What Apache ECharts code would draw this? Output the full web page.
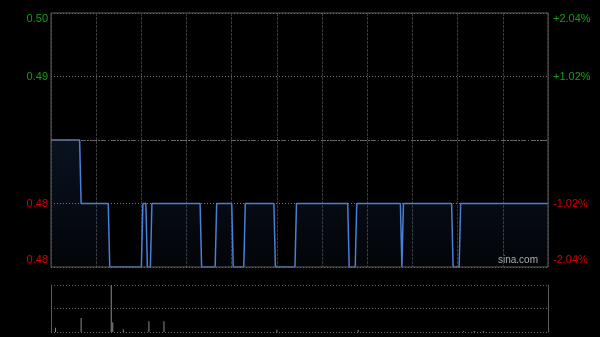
<!DOCTYPE html>
<html>
<head>
<meta charset="utf-8">
<script src="https://cdn.jsdelivr.net/npm/echarts@6/dist/echarts.min.js"></script>
<style>
html,body{margin:0;padding:0;background:#000;}
#c{width:600px;height:337px;}
</style>
</head>
<body>
<div id="c"></div>
<script>
// Previous close and intraday minute price points (minute index, price)
var preClose = 0.49;
var priceMinutes = [0,19,20,38,39,60,61,63,64,66,67,99,100,109,110,120,121,128,129,148,149,162,163,197,198,202,203,232,233,234,266,267,271,272,330];
var priceValues  = [0.49,0.49,0.485,0.485,0.48,0.48,0.485,0.485,0.48,0.48,0.485,0.485,0.48,0.48,0.485,0.485,0.48,0.48,0.485,0.485,0.48,0.48,0.485,0.485,0.48,0.48,0.485,0.485,0.48,0.485,0.485,0.48,0.48,0.485,0.485];
// Volume bars (minute index, relative volume)
var volMinutes = [3,20,40,41,48,65,75,150,204,274,281,287];
var volValues  = [9,30,100,21,6,23,23,5,4,2,2,2];
// Axis tick labels (bottom to top)
var leftLabels  = ['0.48','0.48','','0.49','0.50'];
var rightLabels = ['-2.04%','-1.02%','','+1.02%','+2.04%'];
var totalMinutes = 330;

var range = 2.0408;
var step = range / 2;
var priceData = priceMinutes.map(function(m, i){
  return [m, (priceValues[i] / preClose - 1) * 100];
});
var volData = volMinutes.map(function(m, i){ return [m, volValues[i]]; });

function labelFmt(labels){
  return function(v, idx){
    var t = labels[idx];
    if (!t) return '';
    var cls;
    if (idx === 4) cls = 'gt';
    else if (idx === 3) cls = 'g';
    else if (idx === 1) cls = 'r';
    else cls = 'rb';
    return '{' + cls + '|' + t + '}';
  };
}
var richStyles = {
  gt: {color:'#12a012', fontSize:11, fontFamily:'Liberation Sans', padding:[12,0,0,0]},
  g:  {color:'#12a012', fontSize:11, fontFamily:'Liberation Sans'},
  r:  {color:'#d40000', fontSize:11, fontFamily:'Liberation Sans'},
  rb: {color:'#d40000', fontSize:11, fontFamily:'Liberation Sans', padding:[0,0,14,0]}
};

var chart = echarts.init(document.getElementById('c'), null, {renderer:'canvas'});
chart.setOption({
  backgroundColor:'#000',
  animation:false,
  grid:[
    {left:51, top:13, width:497, height:254, show:true, borderColor:'#5a5a5a', borderWidth:1, backgroundColor:'transparent', z:3},
    {left:51, top:285, width:497, height:47}
  ],
  xAxis:[
    {type:'value', gridIndex:0, min:0, max:totalMinutes, interval:30,
     axisLine:{show:false}, axisTick:{show:false}, axisLabel:{show:false},
     splitLine:{show:true, lineStyle:{color:'#383838', width:1, type:[3,1]}}},
    {type:'value', gridIndex:1, min:0, max:totalMinutes,
     axisLine:{show:false}, axisTick:{show:false}, axisLabel:{show:false},
     splitLine:{show:false}}
  ],
  yAxis:[
    {type:'value', gridIndex:0, position:'left', min:-range, max:range, interval:step,
     axisLine:{show:false}, axisTick:{show:false},
     axisLabel:{margin:3, formatter:labelFmt(leftLabels), rich:richStyles},
     splitLine:{show:true, lineStyle:{color:'#7a7a7a', width:1, type:[1,2]}}},
    {type:'value', gridIndex:0, position:'right', min:-range, max:range, interval:step,
     axisLine:{show:false}, axisTick:{show:false},
     axisLabel:{margin:5, formatter:labelFmt(rightLabels), rich:richStyles},
     splitLine:{show:false}},
    {type:'value', gridIndex:1, position:'left', min:0, max:100, interval:50,
     axisLine:{show:true, lineStyle:{color:'#5a5a5a'}}, axisTick:{show:false}, axisLabel:{show:false},
     splitLine:{show:true, lineStyle:{color:'#6a6a6a', width:1, type:[1,2]}}},
    {type:'value', gridIndex:1, position:'right', min:0, max:100, interval:50,
     axisLine:{show:true, lineStyle:{color:'#5a5a5a'}}, axisTick:{show:false}, axisLabel:{show:false},
     splitLine:{show:false}}
  ],
  series:[
    {type:'line', xAxisIndex:0, yAxisIndex:0, data:priceData, showSymbol:false, silent:true,
     lineStyle:{color:'#4a7fd6', width:1.5},
     areaStyle:{origin:'start', color:new echarts.graphic.LinearGradient(0,0,0,1,[
       {offset:0, color:'rgba(40,75,135,0.35)'},
       {offset:1, color:'rgba(40,75,135,0.08)'}
     ])},
     markLine:{silent:true, symbol:'none', label:{show:false},
       lineStyle:{color:'#606060', width:1, type:[5,2,1,2]},
       data:[{yAxis:0}]},
     z:2},
    {type:'bar', xAxisIndex:1, yAxisIndex:2, data:volData, barWidth:1, silent:true,
     itemStyle:{color:'#8a8a8a'}}
  ],
  graphic:[
    {type:'text', left:498, top:255, silent:true,
     style:{text:'sina.com', fill:'#b0b0b0', font:'10px "Liberation Sans"'}}
  ]
});
</script>
</body>
</html>
